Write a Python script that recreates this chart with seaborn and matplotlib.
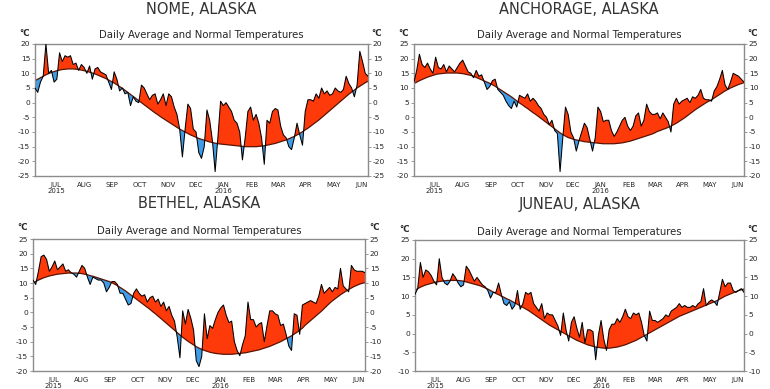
import numpy as np
import pandas as pd
import matplotlib
matplotlib.use("Agg")
import matplotlib.pyplot as plt
import matplotlib.dates as mdates
import seaborn as sns

sns.set_style("white")
plt.rcParams['font.family'] = ['DejaVu Sans']

# ---------------- data (3-day samples, 8 Jun 2015 - 8 Jun 2016) ----------------
START, END = "2015-06-08", "2016-06-08"

nome_obs = [5, 3.5, 7, 9, 20, 10, 11, 7, 8, 17, 14, 16, 15.5, 16, 13, 13.5, 11, 13, 12, 10,
            12.5, 8, 11.5, 12, 10.5, 10, 9.5, 7, 4.5, 10.5, 8, 4, 5, 3, 3.5, -1, 2, 0.5, 0, 6,
            5, 3, 1, 2.5, 3, -0.5, 1, 3, -1, 3, 2, -1.5, -4, -9, -18.5, -9, -0.5, -2, -9, -10,
            -17, -19, -15, -2.5, -6, -13, -23.5, -12, 0.5, -1, 0, -1.5, -3, -6, -7, -10, -19.5, -12, -3, -1.5,
            -6, -4, -7, -12, -21, -6, -7, -3, -2, -2.5, -8, -11, -12, -15, -16, -12, -7, -11, -14.5, -3,
            1, 1, 0.5, 3, 1.5, 5, 3, 4, 2.5, 3, 5, 4, 3.5, 4.5, 9, 6.5, 5, 2, 6, 17.5,
            14, 10, 9]
nome_norm = [7.5, 8, 8.5, 9, 9.5, 9.9, 10.3, 10.6, 10.9, 11.1, 11.3, 11.4, 11.5, 11.5, 11.5, 11.4, 11.3, 11.1, 10.9, 10.7,
             10.4, 10.1, 9.8, 9.4, 9.0, 8.6, 8.2, 7.7, 7.2, 6.7, 6.1, 5.5, 4.9, 4.2, 3.5, 2.8, 2.1, 1.4, 0.7, 0,
             -0.7, -1.4, -2.1, -2.8, -3.5, -4.1, -4.8, -5.4, -6.0, -6.6, -7.2, -7.8, -8.4, -9.0, -9.5, -10.0, -10.5, -11.0, -11.4, -11.8,
             -12.2, -12.5, -12.8, -13.1, -13.4, -13.6, -13.8, -14.0, -14.1, -14.2, -14.3, -14.4, -14.5, -14.6, -14.7, -14.8, -14.9, -15.0, -15.0, -15.0,
             -15.0, -15.0, -14.9, -14.8, -14.7, -14.5, -14.3, -14.1, -13.9, -13.6, -13.3, -13.0, -12.7, -12.3, -11.9, -11.5, -11.0, -10.5, -9.9, -9.3,
             -8.7, -8.0, -7.3, -6.6, -5.9, -5.1, -4.3, -3.5, -2.7, -1.9, -1.1, -0.3, 0.5, 1.3, 2.1, 2.9, 3.6, 4.3, 5.0, 5.6,
             6.2, 6.8, 7.3]

anch_obs = [12, 16, 21.5, 18, 17, 18.5, 16.5, 15, 20.5, 17, 16.5, 18, 15.5, 17.5, 16.5, 15.5, 17, 18.5, 19.5, 17.5,
            15.5, 15, 13.5, 16, 14, 14.5, 12, 9.5, 10.5, 12.5, 13, 9.5, 8.5, 7.5, 5.5, 4, 3, 5.5, 3.5, 7.5,
            7, 6.5, 8, 5.5, 6.5, 5.5, 4, 3, 1, 0, -2.5, -1, -4.5, -5.5, -18.5, -7, 3.5, 1, -5, -7,
            -11.5, -8, -5, -2, -3.5, -7.5, -11.5, -7, 3.5, 2, -1.5, -1, -1, -4.5, -6.5, -5, -3, -1, 0, -3,
            -4.5, -3, 0.5, 1.5, -3, -1, 4.5, 2, 1, 1, 1.5, -0.5, 1.5, 0, -1.5, -5, 4.5, 6.5, 4.5, 5.5,
            6, 6.5, 5, 7, 6.5, 7.5, 9.5, 6.5, 6, 6, 5.5, 9, 10.5, 13, 16, 11, 9.5, 12, 15, 14.5,
            14, 13, 12]
anch_norm = [11.5, 12, 12.5, 12.9, 13.3, 13.7, 14, 14.3, 14.6, 14.8, 14.9, 15, 15.1, 15.1, 15.1, 15.1, 15.1, 15, 14.9, 14.7,
             14.5, 14.3, 14, 13.6, 13.2, 12.8, 12.4, 12, 11.6, 11.1, 10.6, 10, 9.4, 8.8, 8.2, 7.6, 7, 6.3, 5.6, 4.9,
             4.3, 3.6, 3, 2.3, 1.6, 1, 0.3, -0.4, -1.1, -1.8, -2.5, -3.2, -3.9, -4.6, -5.3, -5.9, -6.4, -6.9, -7.2, -7.5,
             -7.7, -7.9, -8.1, -8.3, -8.4, -8.5, -8.6, -8.7, -8.8, -8.9, -9, -9, -9, -9, -9, -8.9, -8.8, -8.7, -8.5, -8.3,
             -8.1, -7.8, -7.5, -7.2, -6.9, -6.6, -6.3, -6, -5.7, -5.3, -4.8, -4.5, -4.1, -3.8, -3.4, -3.0, -2.5, -2, -1.4, -0.8,
             -0.2, 0.5, 1.2, 1.9, 2.6, 3.2, 3.8, 4.4, 5, 5.5, 6, 6.6, 7.2, 7.8, 8.4, 9, 9.5, 10, 10.4, 10.8,
             11.2, 11.5, 11.8]

beth_obs = [11, 9.5, 14, 19, 19.5, 18, 14, 15.5, 17.5, 14.5, 15.5, 16.5, 14, 14.5, 13.5, 13, 12, 14, 16, 15,
            12, 9.5, 12, 11.5, 11, 11, 10, 7, 8.5, 10.5, 10.5, 9.5, 6.5, 6.5, 4.5, 2.5, 3, 6.5, 8, 6.5,
            5.5, 6, 3.5, 5, 5.5, 3.5, 4.5, 2, 3.5, 0.5, 2, -1, -3, -8.5, -15.5, 0.5, -4, 1, -2, -6,
            -16.5, -18.5, -15, -0.5, -9, -4.5, -5.5, -2.5, 0, 1.5, 2.5, -1, -3.5, -3, -10, -13, -14.8, -11, -8, 3.5,
            -2.5, -2.5, -5, -4, -3.5, -10, -4.5, 0.5, 0.5, -0.5, -1, -4.5, -4, -7.5, -11.5, -13, -0.5, -1, -7.5, 2.5,
            3, 3.5, 4, 3.5, 3, 5.5, 9.5, 6.5, 7.5, 8.5, 7, 8.5, 8, 15, 9, 8, 7, 16, 14.5, 14,
            14, 14, 13.5]
beth_norm = [10, 10.5, 11, 11.4, 11.8, 12.1, 12.4, 12.6, 12.8, 13, 13.1, 13.2, 13.3, 13.4, 13.4, 13.4, 13.4, 13.3, 13.2, 13,
             12.8, 12.5, 12.3, 12, 11.7, 11.4, 11.1, 10.8, 10.5, 10.1, 9.6, 9.1, 8.5, 7.9, 7.3, 6.6, 5.9, 5.2, 4.5, 3.8,
             3.1, 2.4, 1.7, 1, 0.2, -0.5, -1.3, -2.1, -2.9, -3.7, -4.5, -5.3, -6.1, -6.9, -7.7, -8.5, -9.2, -9.9, -10.5, -11.1,
             -11.7, -12.2, -12.6, -13, -13.3, -13.6, -13.8, -14, -14.1, -14.2, -14.3, -14.3, -14.3, -14.3, -14.2, -14.1, -14, -13.9, -13.8, -13.6,
             -13.4, -13.2, -13, -12.8, -12.5, -12.2, -11.9, -11.6, -11.2, -10.8, -10.4, -10, -9.5, -9, -8.5, -8, -7.4, -6.8, -6.1, -5.4,
             -4.4, -3.6, -2.8, -2, -1.2, -0.4, 0.4, 1.3, 2.2, 3.1, 3.9, 4.6, 5.3, 6, 6.6, 7.2, 7.8, 8.3, 8.8, 9.2,
             9.6, 9.9, 10.1]

june_obs = [10.5, 12, 19, 15, 17, 16.5, 15.5, 14, 13, 20, 15, 13.5, 13, 14, 16, 15, 13.5, 12.5, 13, 18,
            17, 15.5, 14, 15, 14, 13, 12.5, 11.5, 9.5, 11, 11, 13.5, 10.5, 8, 7.5, 8.5, 6.5, 7.5, 11.5, 6.5,
            8, 11, 10.5, 11, 8, 7, 6, 8, 4, 5.5, 5, 5, 3.5, 2, -0.5, 5.5, 1, -2, 3, 4.5,
            1.5, -1, 3, -2.5, 1, 1, 0.5, -7, -0.5, 3.5, -1.5, -4.5, 1, 2.5, 2.5, 4, 3, 4.5, 6.5, 4.5,
            4, 5.5, 5, 5.5, 3, -0.5, -2, 6, 3.5, 3.5, 3, 3.5, 4, 5, 4.5, 6, 6.5, 7, 8, 7,
            7.5, 7, 7, 7.5, 7, 8, 8.5, 12, 7.5, 8.5, 9, 8.5, 7.5, 11, 14.5, 12.5, 13.5, 13.5, 11.5, 11,
            11.5, 12, 11]
june_norm = [11.6, 12, 12.4, 12.7, 13, 13.2, 13.4, 13.6, 13.8, 13.9, 14, 14.1, 14.2, 14.2, 14.2, 14.2, 14.2, 14.1, 14, 13.8,
             13.6, 13.4, 13.2, 13, 12.8, 12.5, 12.2, 11.9, 11.5, 11.1, 10.7, 10.4, 10, 9.7, 9.3, 9, 8.6, 8.2, 7.8, 7.4,
             7, 6.6, 6.2, 5.7, 5.2, 4.7, 4.2, 3.7, 3.2, 2.7, 2.2, 1.8, 1.4, 1, 0.6, 0.2, -0.2, -0.6, -1, -1.4,
             -1.8, -2.1, -2.4, -2.7, -3, -3.2, -3.4, -3.6, -3.7, -3.8, -3.9, -3.9, -3.9, -3.8, -3.7, -3.6, -3.4, -3.2, -3, -2.7,
             -2.4, -2.1, -1.8, -1.4, -1, -0.6, -0.2, 0.2, 0.6, 1, 1.4, 1.8, 2.2, 2.6, 3, 3.4, 3.8, 4.2, 4.6, 4.9,
             5.2, 5.5, 5.8, 6.1, 6.4, 6.7, 7, 7.3, 7.6, 7.9, 8.2, 8.5, 8.8, 9.2, 9.6, 10, 10.3, 10.6, 10.9, 11.2,
             11.5, 11.7, 11.9]

stations = ["NOME, ALASKA", "ANCHORAGE, ALASKA", "BETHEL, ALASKA", "JUNEAU, ALASKA"]
yticks_nome = [-25, -20, -15, -10, -5, 0, 5, 10, 15, 20]
yticks_anch = [-20, -15, -10, -5, 0, 5, 10, 15, 20, 25]
yticks_beth = [-20, -15, -10, -5, 0, 5, 10, 15, 20, 25]
yticks_june = [-10, -5, 0, 5, 10, 15, 20, 25]
month_labels = ["JUL\n2015", "AUG", "SEP", "OCT", "NOV", "DEC", "JAN\n2016",
                "FEB", "MAR", "APR", "MAY", "JUN"]
subtitle = "Daily Average and Normal Temperatures"

# ---------------- drawing ----------------
W, H = 770, 389
fig = plt.figure(figsize=(W / 100, H / 100), dpi=100)
fig.patch.set_facecolor("white")

RED = "#ff3a0a"
BLUE = "#3f9de8"
NORM_C = "#5a1200"
TXT = "#262626"
GRAY = "#8c8c8c"

dates = pd.date_range(START, END, freq="3D")
xnum = mdates.date2num(dates)


def px(x, y):
    return x / W, 1 - y / H


def panel(box, title, obs, norm, yticks):
    x0, y0, x1, y1 = box
    ax = fig.add_axes([x0 / W, 1 - y1 / H, (x1 - x0) / W, (y1 - y0) / H])
    df = pd.DataFrame({"x": xnum, "obs": obs, "norm": norm})
    o = df["obs"].to_numpy(float)
    n = df["norm"].to_numpy(float)
    ax.fill_between(df["x"], n, o, where=o >= n, interpolate=True, color=RED, lw=0, zorder=1)
    ax.fill_between(df["x"], n, o, where=o <= n, interpolate=True, color=BLUE, lw=0, zorder=1)
    sns.lineplot(data=df, x="x", y="norm", ax=ax, color=NORM_C, lw=0.9, zorder=2)
    sns.lineplot(data=df, x="x", y="obs", ax=ax, color="black", lw=0.75, zorder=3)
    ax.set_xlim(xnum[0], xnum[-1])
    ax.set_ylim(yticks[0], yticks[-1])
    ax.set_xlabel("")
    ax.set_ylabel("")
    ax.set_yticks(yticks)
    ax.set_yticklabels([str(v) for v in yticks])
    ax.xaxis.set_major_locator(mdates.MonthLocator())
    ax.set_xticks(ax.get_xticks())
    ax.set_xticklabels(month_labels)
    ax.tick_params(axis="y", which="both", left=True, right=True, labelleft=True, labelright=True,
                   direction="out", length=2.5, width=0.6, color=GRAY, labelsize=5.4,
                   labelcolor=TXT, pad=1)
    ax.tick_params(axis="x", direction="out", length=2.5, width=0.6, color=GRAY,
                   labelsize=5.0, labelcolor=TXT, pad=2)
    for lab in ax.get_xticklabels():
        lab.set_linespacing(0.95)
    for sp in ax.spines.values():
        sp.set_color(GRAY)
        sp.set_linewidth(1.0)
    ax.set_facecolor("white")
    cx = (x0 + x1) / 2
    fig.text(*px(cx, y0 - 35), title, ha="center", va="center", fontsize=10.5, color="#333333")
    fig.text(*px(cx, y0 - 8.5), subtitle, ha="center", va="center", fontsize=7.3, color=TXT)
    fig.text(*px(x0 - 10, y0 - 11), "°C", ha="center", va="center", fontsize=6.2,
             color=TXT, fontweight="bold")
    fig.text(*px(x1 + 9, y0 - 11), "°C", ha="center", va="center", fontsize=6.2,
             color=TXT, fontweight="bold")
    return ax


panel((35, 44, 368, 176), stations[0], nome_obs, nome_norm, yticks_nome)
panel((414, 44, 744, 176), stations[1], anch_obs, anch_norm, yticks_anch)
panel((33, 239, 365, 371), stations[2], beth_obs, beth_norm, yticks_beth)
panel((415, 240, 744, 371), stations[3], june_obs, june_norm, yticks_june)

fig.savefig("out.png", dpi=100, facecolor="white")
